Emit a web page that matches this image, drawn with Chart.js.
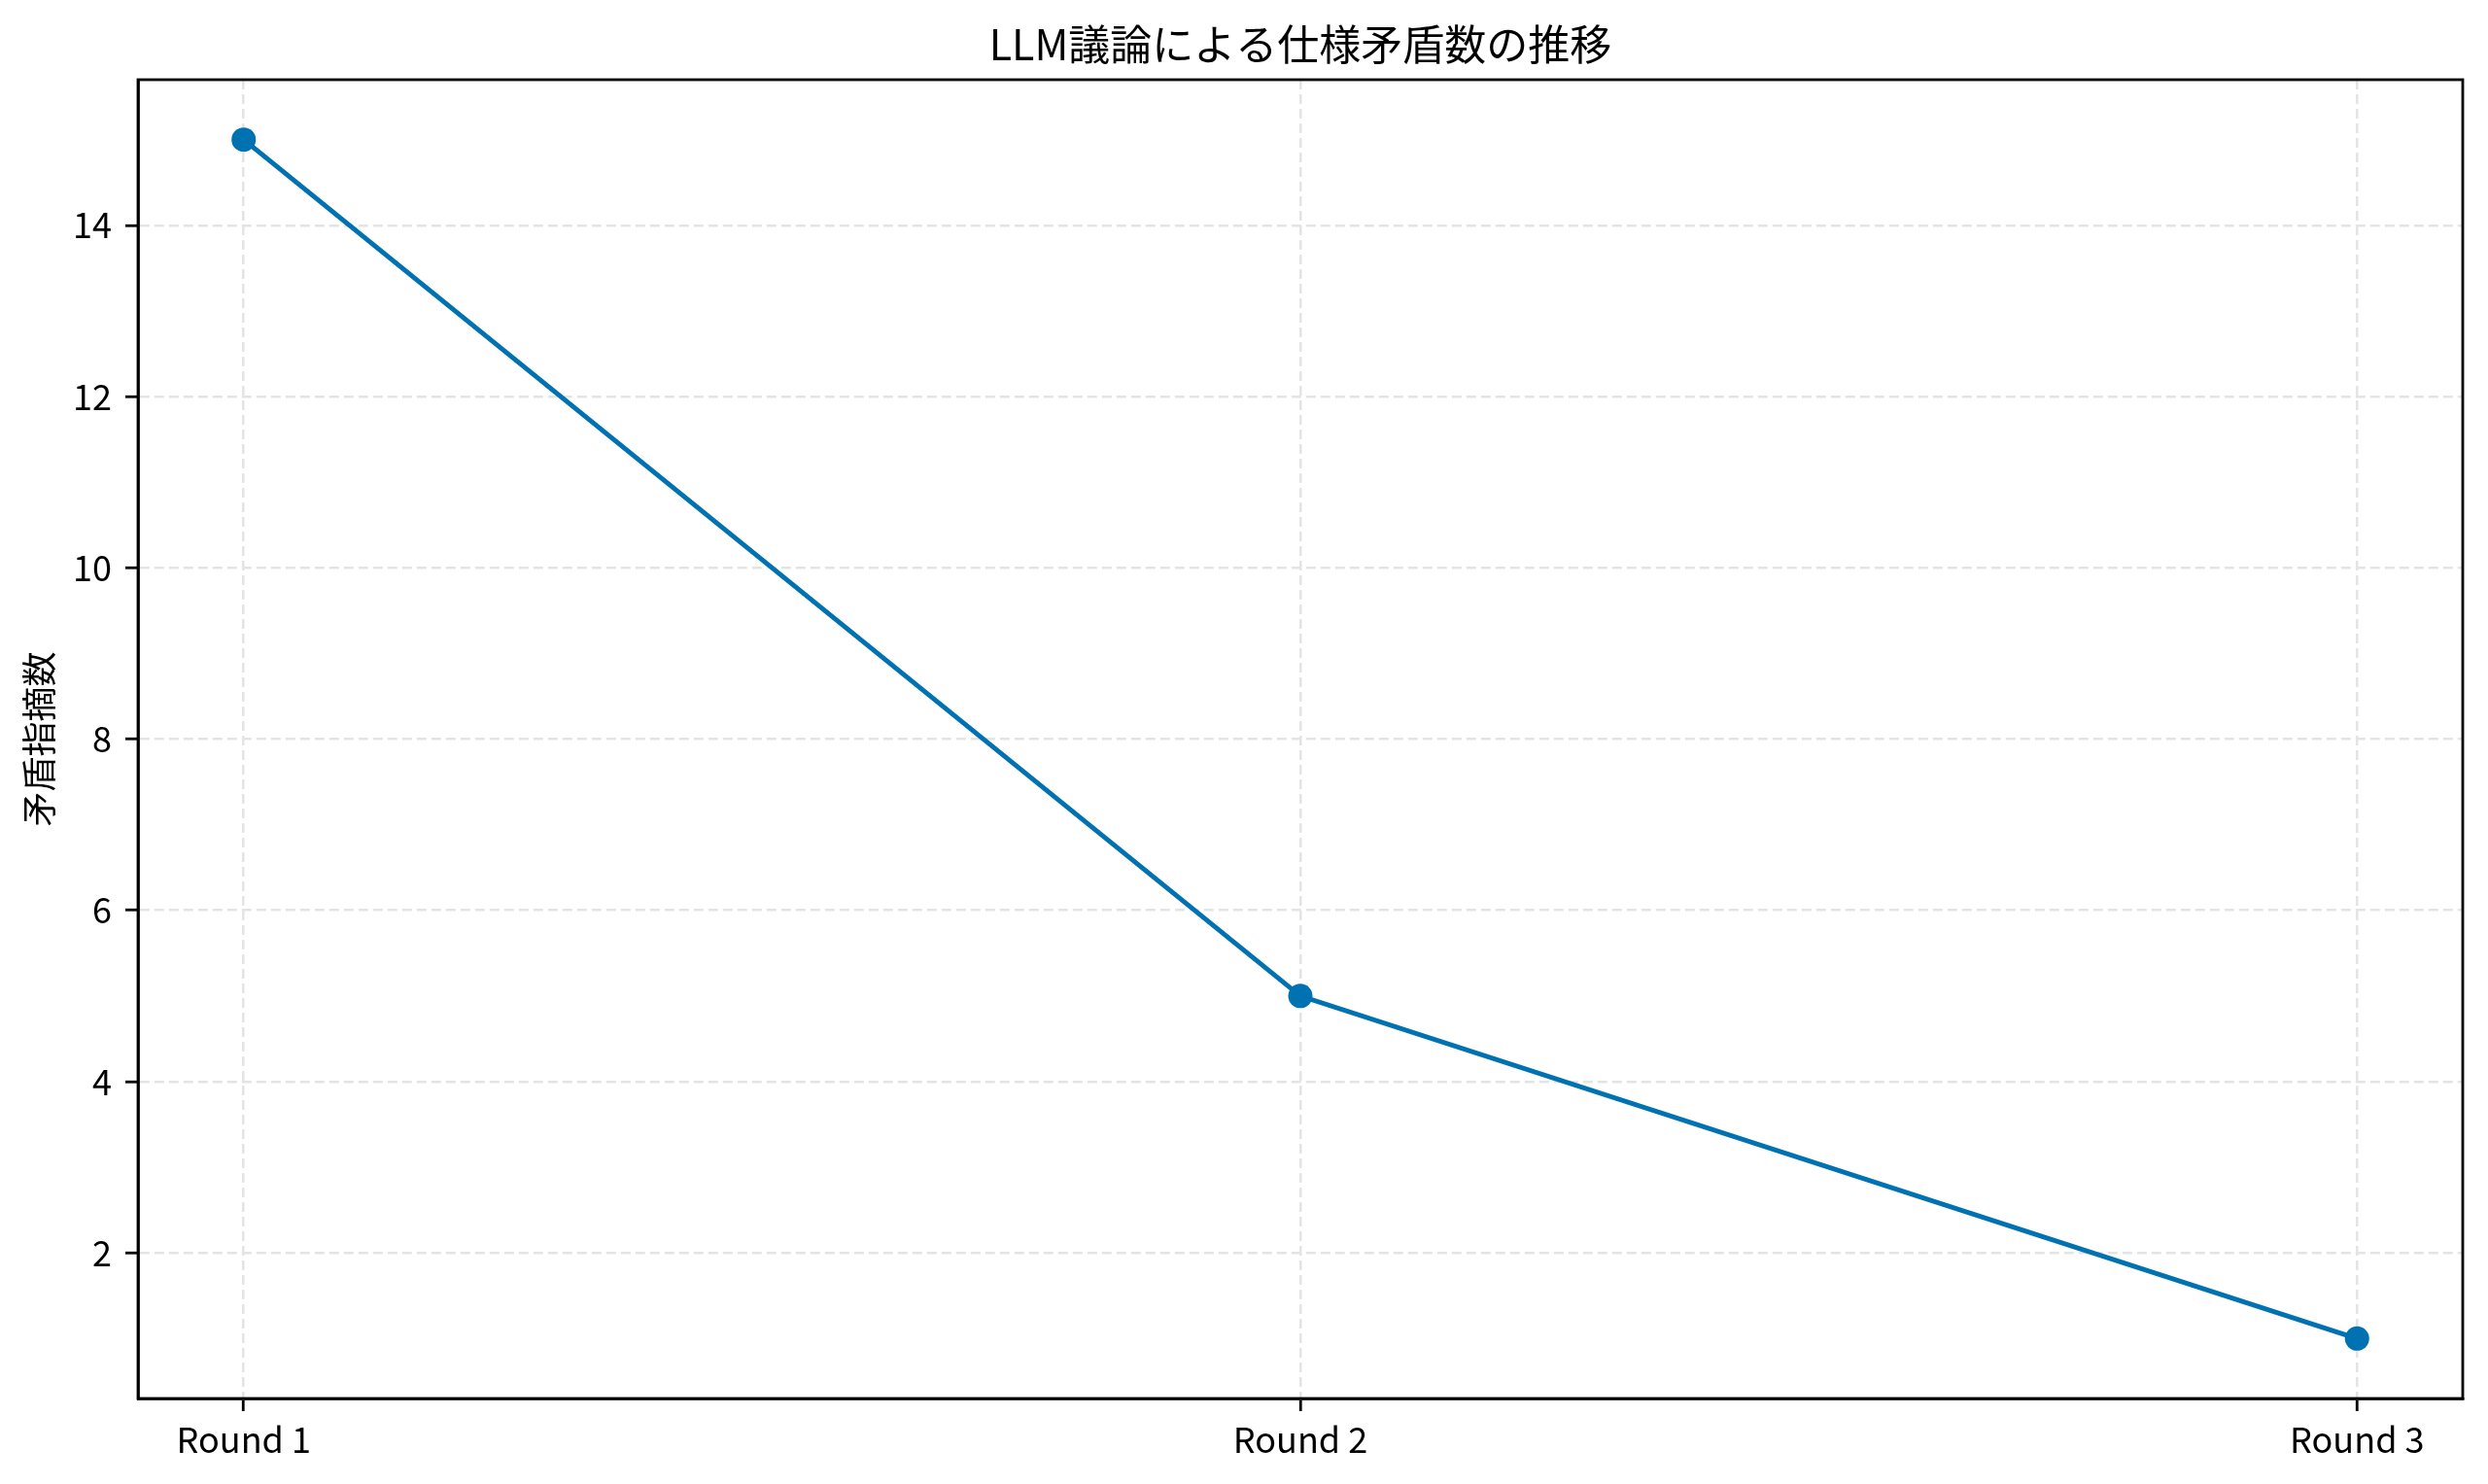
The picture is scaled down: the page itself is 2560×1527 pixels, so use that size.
<!DOCTYPE html>
<html>
<head>
<meta charset="utf-8">
<script src="https://cdn.jsdelivr.net/npm/chart.js@4"></script>
<style>
html,body{margin:0;padding:0;background:#fff;}
#wrap{width:2560px;height:1527px;}
</style>
</head>
<body>
<div id="wrap"><canvas id="c" width="2560" height="1527"></canvas></div>
<script>
const categories = ['Round 1', 'Round 2', 'Round 3'];
const contradictions = [15, 5, 1];
const yTickValues = [2, 4, 6, 8, 10, 12, 14];
const titleText = 'LLM議論による仕様矛盾数の推移';
const yLabelText = '矛盾指摘数';

const FONT = '"Noto Sans CJK JP", "Noto Sans", sans-serif';
const BLUE = '#0072B2';
const GRID = '#e4e4e4';

const spines = {
  id: 'spines',
  afterDatasetsDraw(chart) {
    const a = chart.chartArea, ctx = chart.ctx;
    ctx.save();
    ctx.strokeStyle = '#000';
    ctx.lineWidth = 2.8;
    ctx.strokeRect(a.left, a.top, a.right - a.left, a.bottom - a.top);
    ctx.restore();
  }
};

const plotTitle = {
  id: 'plotTitle',
  afterDraw(chart) {
    const a = chart.chartArea, ctx = chart.ctx;
    ctx.save();
    ctx.fillStyle = '#000';
    ctx.font = '43px ' + FONT;
    ctx.textAlign = 'center';
    ctx.textBaseline = 'middle';
    ctx.fillText(titleText, (a.left + a.right) / 2, 46);
    ctx.restore();
  }
};

new Chart(document.getElementById('c'), {
  type: 'line',
  data: {
    datasets: [{
      data: contradictions.map((v, i) => ({x: i, y: v})),
      borderColor: BLUE,
      backgroundColor: BLUE,
      borderWidth: 5,
      pointRadius: 12.5,
      pointHoverRadius: 12.5,
      pointBorderWidth: 0,
      tension: 0,
      fill: false
    }]
  },
  options: {
    responsive: false,
    animation: false,
    devicePixelRatio: 1,
    layout: {padding: {left: 0, right: 26, top: 82, bottom: 0}},
    plugins: {
      legend: {display: false},
      tooltip: {enabled: false},
      title: {display: false}
    },
    scales: {
      x: {
        type: 'linear',
        min: -0.1,
        max: 2.1,
        afterBuildTicks(s) { s.ticks = categories.map((c, i) => ({value: i})); },
        afterFit(s) { s.height = 88; },
        ticks: {
          callback: (v) => categories[v],
          color: '#000',
          font: {family: FONT, size: 36},
          padding: 8,
          maxRotation: 0,
          autoSkip: false
        },
        grid: {
          color: GRID,
          lineWidth: 2.5,
          tickLength: 13,
          tickColor: '#000',
          tickWidth: 2.8,
          tickBorderDash: []
        },
        border: {display: true, color: '#000', width: 2.8, dash: [10, 5]}
      },
      y: {
        type: 'linear',
        min: 0.3,
        max: 15.7,
        afterBuildTicks(s) { s.ticks = yTickValues.map(v => ({value: v})); },
        afterFit(s) { s.width = 142; },
        ticks: {
          color: '#000',
          font: {family: FONT, size: 36},
          padding: 14
        },
        title: {
          display: true,
          text: yLabelText,
          color: '#000',
          font: {family: FONT, size: 36},
          padding: {top: 19, bottom: 0}
        },
        grid: {
          color: GRID,
          lineWidth: 2.5,
          tickLength: 13,
          tickColor: '#000',
          tickWidth: 2.8,
          tickBorderDash: []
        },
        border: {display: true, color: '#000', width: 2.8, dash: [10, 5]}
      }
    }
  },
  plugins: [spines, plotTitle]
});
</script>
</body>
</html>
